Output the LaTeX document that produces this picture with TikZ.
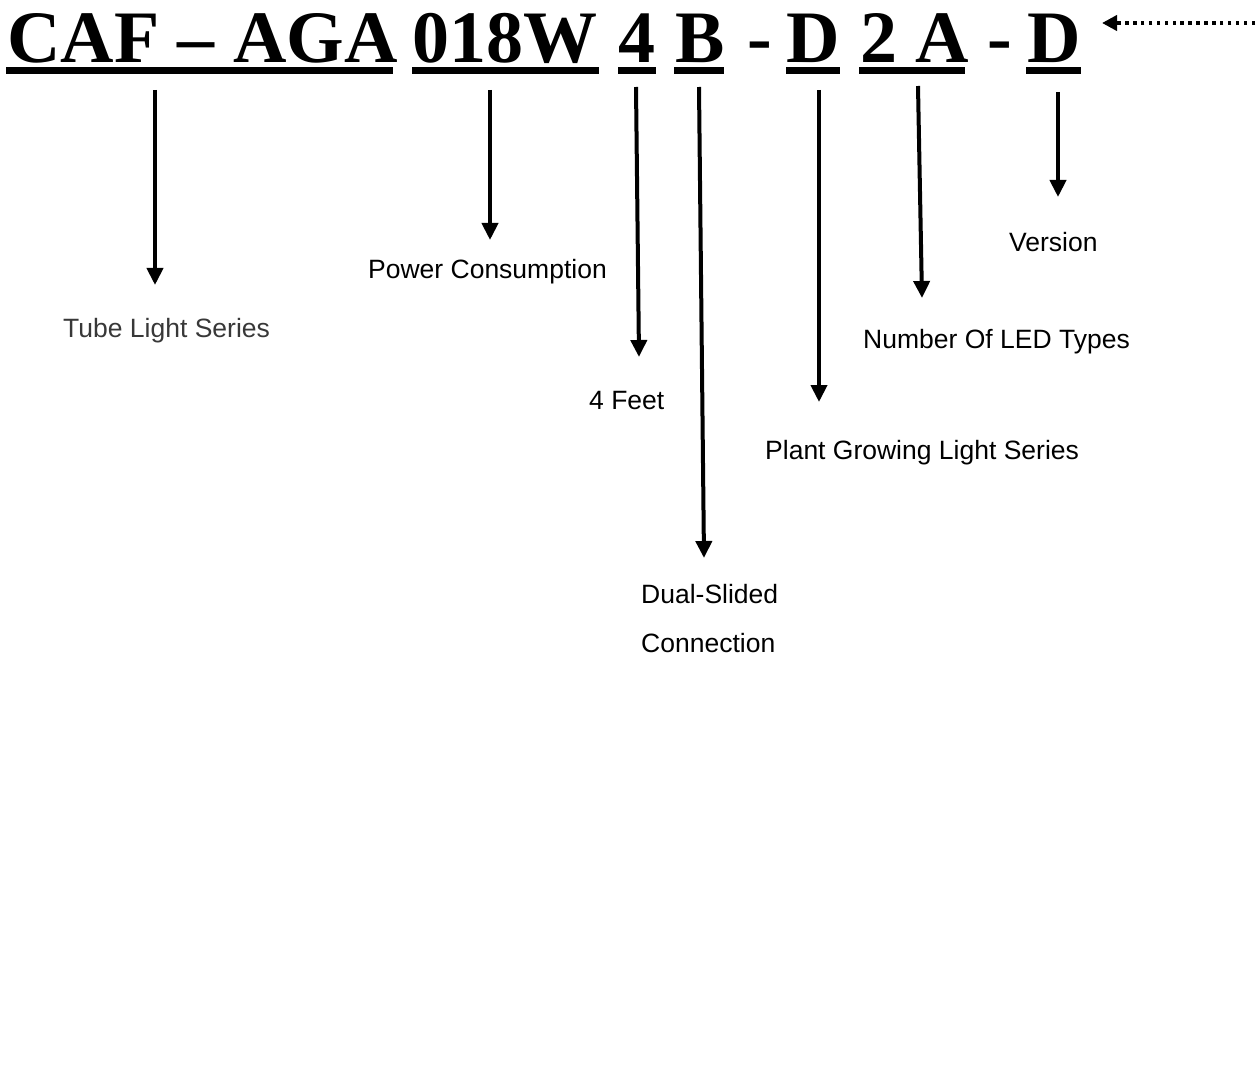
\documentclass[tikz,border=0pt]{standalone}
\usepackage{fontspec}
\setmainfont{Liberation Sans}
\newfontfamily\hdrfont{Liberation Serif}
\usetikzlibrary{arrows.meta}
\tikzset{
  hdr/.style={anchor=base west, inner sep=0pt, font=\hdrfont\bfseries\fontsize{74}{74}\selectfont},
  uline/.style={fill=black},
  lbl/.style={anchor=base west, inner sep=0pt, font=\fontsize{26.5}{30}\selectfont, text=black},
  callout/.style={line width=4pt, -{Triangle[width=16pt,length=17pt]}},
  pointer/.style={line width=4pt, dash pattern=on 3.5pt off 4.4pt, -{Triangle[width=15pt,length=15pt]}}
}
\begin{document}
\begin{tikzpicture}[x=1pt,y=-1pt]
\useasboundingbox (0,0) rectangle (1259,1078);
% header code
\node[hdr] (caf) at (7,63) {CAF – AGA};
\node[hdr] (pw) at (412,63) {018W};
\node[hdr] (ft) at (618,63) {4};
\node[hdr] (bb) at (675,63) {B};
\node[hdr] (h1) at (747,63) {-};
\node[hdr] (dd) at (786,63) {D};
\node[hdr] (ta) at (860,63) {2 A};
\node[hdr] (h2) at (987,63) {-};
\node[hdr] (vd) at (1027,63) {D};
% underlines
\fill[uline] (6,67) rectangle (393,74);
\fill[uline] (412,67) rectangle (599,74);
\fill[uline] (618,67) rectangle (656,74);
\fill[uline] (674,67) rectangle (724,74);
\fill[uline] (786,67) rectangle (840,74);
\fill[uline] (859,67) rectangle (965,74);
\fill[uline] (1026,67) rectangle (1081,74);
% labels
\node[lbl, text=black!78] (tube) at (63,337) {Tube Light Series};
\node[lbl] (power) at (368,279) {Power Consumption};
\node[lbl] (feet) at (589,409) {4 Feet};
\node[lbl] (dual) at (641,603) {Dual-Slided};
\node[lbl] (conn) at (641,652) {Connection};
\node[lbl] (plant) at (765,459) {Plant Growing Light Series};
\node[lbl] (num) at (863,348) {Number Of LED Types};
\node[lbl] (ver) at (1009,252) {Version};
% arrow coordinates
\coordinate (s1) at (155,90);  \coordinate (e1) at (155,285);
\coordinate (s2) at (490,90);  \coordinate (e2) at (490,240);
\coordinate (s3) at (636,87);  \coordinate (e3) at (639,357);
\coordinate (s4) at (699,87);  \coordinate (e4) at (704,558);
\coordinate (s5) at (819,90);  \coordinate (e5) at (819,402);
\coordinate (s6) at (918,86);  \coordinate (e6) at (922,298);
\coordinate (s7) at (1058,92); \coordinate (e7) at (1058,197);
\foreach \i in {1,...,7} \draw[callout] (s\i) -- (e\i);
% dotted pointer
\coordinate (ps) at (1255,23);
\coordinate (pe) at (1102,23);
\draw[pointer] (ps) -- (pe);
\end{tikzpicture}
\end{document}
